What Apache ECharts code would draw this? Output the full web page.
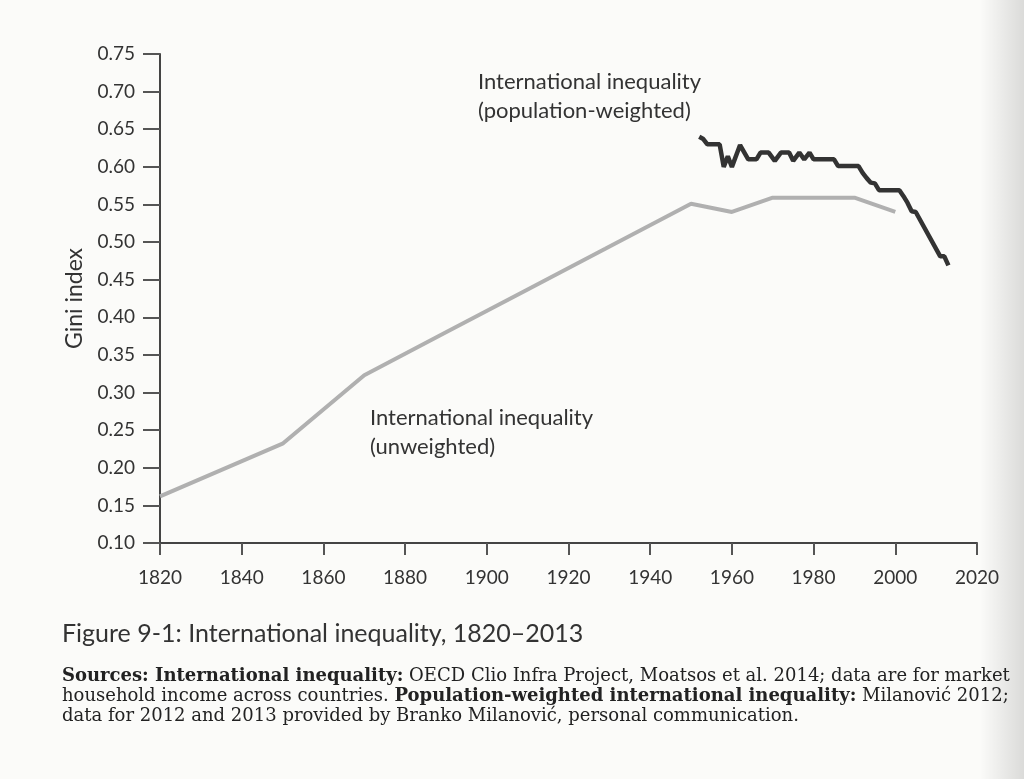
<!DOCTYPE html>
<html>
<head>
<meta charset="utf-8">
<script src="https://cdn.jsdelivr.net/npm/echarts@6/dist/echarts.min.js"></script>
<style>
  html, body { margin: 0; padding: 0; background: #fbfbf9; }
  #chart { width: 1024px; height: 779px; }
</style>
</head>
<body>
<div id="chart"></div>
<script>
// unweighted international inequality (Clio Infra benchmark years)
const unweightedYears = [1820, 1850, 1870, 1890, 1910, 1929, 1950, 1960, 1970, 1980, 1990, 2000];
const unweightedGini = [0.162, 0.232, 0.323, 0.380, 0.437, 0.491, 0.551, 0.540, 0.559, 0.559, 0.559, 0.540];

// population-weighted (Milanovic) at the turns of the line
const weightedYears = [1952, 1953, 1954, 1957, 1958, 1959, 1960, 1962, 1964, 1966, 1967, 1969, 1970.5, 1972, 1974, 1975,
  1976.5, 1977.7, 1979, 1980, 1985, 1986, 1991, 1992, 1993, 1994, 1995, 1996, 2001, 2002, 2003, 2004, 2005, 2011, 2012, 2013];
const weightedGini = [0.640, 0.637, 0.630, 0.630, 0.600, 0.614, 0.600, 0.629, 0.610, 0.610, 0.619, 0.619, 0.608, 0.619, 0.619, 0.608,
  0.619, 0.610, 0.619, 0.610, 0.610, 0.601, 0.601, 0.592, 0.585, 0.579, 0.578, 0.569, 0.569, 0.561, 0.552, 0.541, 0.540, 0.481, 0.481, 0.469];

const xMin = 1820, xMax = 2020, xStep = 20;
const yMin = 0.10, yMax = 0.75, yStep = 0.05;

const ink = "#333";
const sansFont = "Lato";
const serifFont = "DejaVu Serif";

const chart = echarts.init(document.getElementById("chart"));

const option = {
  backgroundColor: "#fbfbf9",
  animation: false,
  grid: { left: 160, right: 47, top: 54, bottom: 236 },
  xAxis: {
    type: "value",
    min: xMin,
    max: xMax,
    interval: xStep,
    splitLine: { show: false },
    axisLine: { show: true, lineStyle: { color: "#444", width: 2 } },
    axisTick: { show: true, length: 12, lineStyle: { color: "#555", width: 2 } },
    axisLabel: {
      color: ink,
      fontFamily: sansFont,
      fontSize: 19,
      margin: 25,
      formatter: (v) => String(v),
    },
  },
  yAxis: {
    type: "value",
    min: yMin,
    max: yMax,
    interval: yStep,
    splitLine: { show: false },
    axisLine: { show: true, lineStyle: { color: "#444", width: 2 } },
    axisTick: { show: true, length: 17, lineStyle: { color: "#555", width: 2 } },
    axisLabel: {
      color: ink,
      fontFamily: sansFont,
      fontSize: 19,
      margin: 25,
      formatter: (v) => v.toFixed(2),
    },
    name: "Gini index",
    nameLocation: "middle",
    nameRotate: 90,
    nameGap: 71,
    nameTextStyle: { color: ink, fontFamily: sansFont, fontSize: 23 },
  },
  series: [
    {
      name: "International inequality (unweighted)",
      type: "line",
      data: unweightedYears.map((y, i) => [y, unweightedGini[i]]),
      showSymbol: false,
      lineStyle: { color: "#b0b0b0", width: 4 },
    },
    {
      name: "International inequality (population-weighted)",
      type: "line",
      data: weightedYears.map((y, i) => [y, weightedGini[i]]),
      showSymbol: false,
      lineStyle: { color: "#333", width: 4.5 },
    },
  ],
  graphic: [
    {
      type: "rect",
      shape: { x: 980, y: 0, width: 44, height: 779 },
      style: {
        fill: new echarts.graphic.LinearGradient(0, 0, 1, 0, [
          { offset: 0, color: "rgba(0,0,0,0)" },
          { offset: 1, color: "rgba(0,0,0,0.13)" },
        ]),
      },
      silent: true,
    },
    {
      type: "text",
      left: 478,
      top: 67,
      style: {
        text: "International inequality\n(population-weighted)",
        fill: ink,
        font: "22px " + sansFont,
        lineHeight: 29,
      },
    },
    {
      type: "text",
      left: 370,
      top: 403,
      style: {
        text: "International inequality\n(unweighted)",
        fill: ink,
        font: "22px " + sansFont,
        lineHeight: 29,
      },
    },
    {
      type: "text",
      left: 62,
      top: 621,
      style: {
        text: "Figure 9-1: International inequality, 1820–2013",
        fill: ink,
        font: "25px " + sansFont,
      },
    },
    {
      type: "text",
      left: 62,
      top: 666,
      style: {
        text:
          "{b|Sources: International inequality:} OECD Clio Infra Project, Moatsos et al. 2014; data are for market\n" +
          "household income across countries. {b|Population-weighted international inequality:} Milanović 2012;\n" +
          "data for 2012 and 2013 provided by Branko Milanović, personal communication.",
        fill: "#222",
        font: "18px " + serifFont,
        lineHeight: 20,
        rich: {
          b: { fontWeight: "bold", fontFamily: serifFont, fontSize: 18, fill: "#222" },
        },
      },
    },
  ],
};

chart.setOption(option);
</script>
</body>
</html>
